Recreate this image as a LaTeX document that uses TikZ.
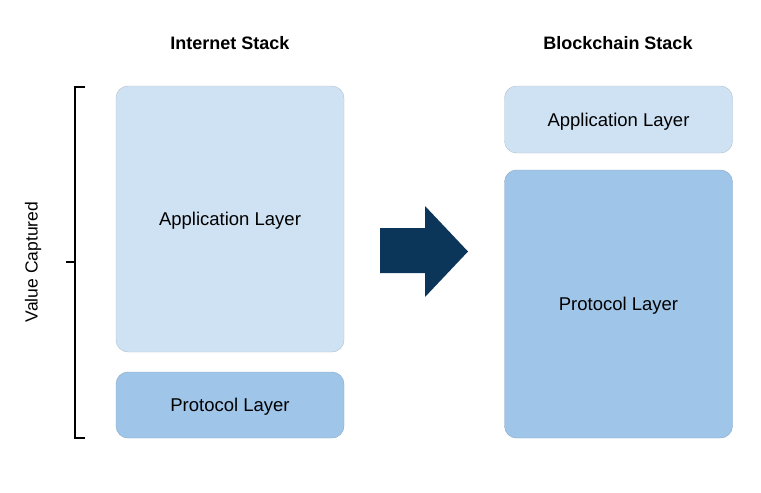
\documentclass[tikz,border=0pt]{standalone}
\usepackage{fontspec}
\setmainfont{Liberation Sans}
\usetikzlibrary{calc, positioning}

\definecolor{appblue}{HTML}{CFE2F3}
\definecolor{protblue}{HTML}{9FC5E8}
\definecolor{navy}{HTML}{0C355A}

\tikzset{
  layer/.style={rounded corners=12pt, draw=#1!85!black, line width=0.4pt, fill=#1,
    minimum width=228pt, font=\fontsize{18.5}{22}\selectfont, inner sep=0pt,
    text depth=0pt},
  title/.style={font=\bfseries\fontsize{18}{21}\selectfont},
}

\begin{document}
\begin{tikzpicture}[x=1pt, y=-1pt]
\useasboundingbox (0,0) rectangle (761,493);

% internet stack
\node[title] (inet) at (230,43) {Internet Stack};
\node[layer=appblue, minimum height=266pt] (iapp) at (230,219) {Application Layer};
\node[layer=protblue, minimum height=66pt] (iprot) at (230,405) {Protocol Layer};

% blockchain stack
\node[title] (bchain) at (618,43) {Blockchain Stack};
\node[layer=appblue, minimum height=67pt] (bapp) at (618.5,119.5) {Application Layer};
\node[layer=protblue, minimum height=268pt] (bprot) at (618.5,304) {Protocol Layer};

% arrow
\fill[navy] (380,228) -- (425,228) -- (425,206) -- (468,251.5) -- (425,297)
  -- (425,273) -- (380,273) -- cycle;

% brace
\draw[line width=2.6pt] (85,87) -- (75,87) -- (75,438) -- (85,438);
\draw[line width=2.6pt] (75,262) -- (66,262);
\node[rotate=90, font=\fontsize{17.5}{21}\selectfont] (value) at (33,262) {Value Captured};
\end{tikzpicture}
\end{document}
